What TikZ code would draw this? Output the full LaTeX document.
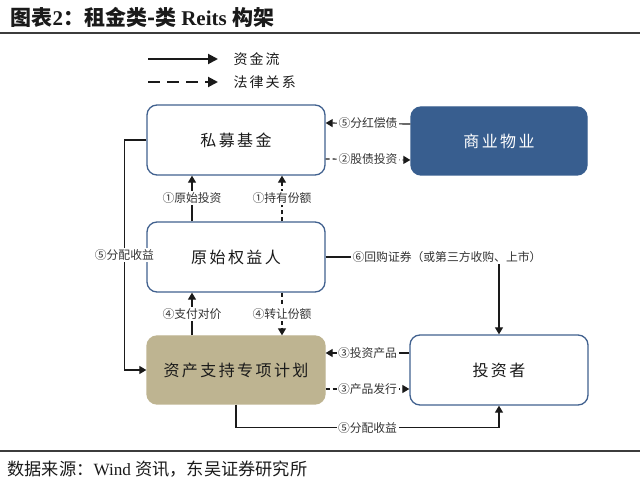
\documentclass[tikz,border=0pt]{standalone}
\usepackage{fontspec}
\setmainfont{Liberation Serif}
\newfontfamily\cjk{Noto Sans CJK SC}
\newfontfamily\cjkwide[LetterSpace=15]{Noto Sans CJK SC}
\usetikzlibrary{arrows.meta,positioning}
\definecolor{Edge}{HTML}{41618F}
\definecolor{Prop}{HTML}{385E8F}
\definecolor{Plan}{HTML}{BEB491}
\definecolor{Ink}{HTML}{1A1A1A}
\definecolor{Mute}{HTML}{333333}
\definecolor{Rule}{HTML}{3C3C3C}

\begin{document}
\begin{tikzpicture}[x=1pt,y=1pt,
  box/.style={draw=Edge,line width=1.3pt,rounded corners=10pt,fill=white,
    minimum width=178pt,minimum height=70pt,inner sep=0pt,text=Ink,
    font=\fontsize{16}{18}\selectfont\cjkwide},
  lab/.style={fill=white,inner sep=1.5pt,text=Mute,
    font=\fontsize{11.8}{13}\selectfont\cjk},
  flow/.style={draw=Ink,line width=1.2pt,-{Triangle[length=7pt,width=8pt]}},
  law/.style={flow,dash pattern=on 4pt off 3pt},
  key/.style={draw=Ink,line width=2pt,-{Triangle[length=10pt,width=10pt]}}]
  \useasboundingbox (0,0) rectangle (640,487);
  % title and rules
  \node[anchor=west,text=Ink,font=\fontsize{21}{23}\selectfont\bfseries] (title) at (7,470)
    {{\cjk 图表}2{\cjk ：租金类-类} Reits {\cjk 构架}};
  \draw[Rule,line width=2pt] (0,454) -- (640,454);
  \draw[Rule,line width=1.5pt] (0,36) -- (640,36);
  \node[anchor=west,text=Ink,font=\fontsize{17.2}{19}\selectfont] (src) at (4,18)
    {{\cjk 数据来源：}Wind {\cjk 资讯，东吴证券研究所}};
  % legend
  \coordinate (k1s) at (148,428); \coordinate (k1e) at (218,428);
  \coordinate (k2s) at (148,405); \coordinate (k2e) at (218,405);
  \draw[key] (k1s) -- (k1e);
  \draw[key,dash pattern=on 12pt off 7pt] (k2s) -- (k2e);
  \node[anchor=west,text=Ink,font=\fontsize{14}{16}\selectfont\cjkwide] (k1) at (230,428) {资金流};
  \node[anchor=west,text=Ink,font=\fontsize{14}{16}\selectfont\cjkwide] (k2) at (230,405) {法律关系};
  % boxes
  \node[box] (fund) at (236,347) {私募基金};
  \node[box,fill=Prop,draw=Prop,text=white,minimum width=176pt,minimum height=68pt] (prop) at (499,346) {商业物业};
  \node[box] (orig) at (236,230) {原始权益人};
  \node[box,fill=Plan,draw=Plan,minimum height=68pt] (plan) at (236,117) {资产支持专项计划};
  \node[box] (inv) at (499,117) {投资者};
  % flows
  \draw[flow] ([yshift=17pt]prop.west) -- node[lab] {⑤分红偿债} ([yshift=17pt]fund.east);
  \draw[law] ([yshift=-19pt]fund.east) -- node[lab] {②股债投资} ([yshift=-19pt]prop.west);
  \draw[flow] ([xshift=-44pt]orig.north) -- node[lab] {①原始投资} ([xshift=-44pt]fund.south);
  \draw[law] ([xshift=46pt]orig.north) -- node[lab] {①持有份额} ([xshift=46pt]fund.south);
  \draw[flow] ([xshift=-44pt]plan.north) -- node[lab] {④支付对价} ([xshift=-44pt]orig.south);
  \draw[law] ([xshift=46pt]orig.south) -- node[lab] {④转让份额} ([xshift=46pt]plan.north);
  \draw[flow] ([yshift=17pt]inv.west) -- node[lab] {③投资产品} ([yshift=17pt]plan.east);
  \draw[law] ([yshift=-19pt]plan.east) -- node[lab] {③产品发行} ([yshift=-19pt]inv.west);
  \draw[flow] (fund.west) -- ++(-22,0) |- node[lab,pos=0.25] {⑤分配收益} (plan.west);
  \draw[flow] (orig.east) -| node[lab,pos=0.35] {⑥回购证券（或第三方收购、上市）} (inv.north);
  \draw[flow] (plan.south) -- ++(0,-23) -| node[lab,pos=0.25] {⑤分配收益} (inv.south);
\end{tikzpicture}
\end{document}
